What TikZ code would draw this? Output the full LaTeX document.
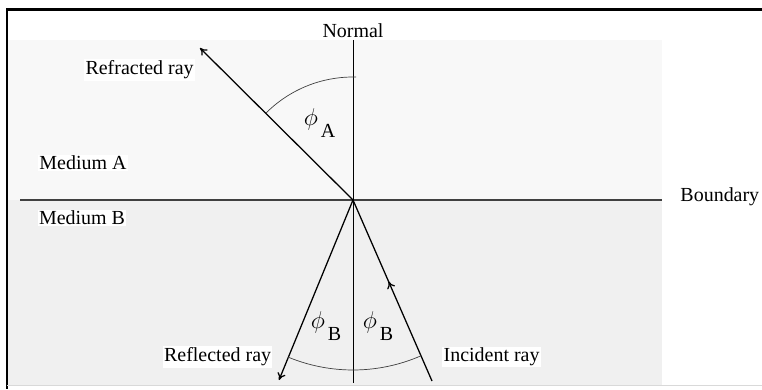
\documentclass[tikz,border=0pt]{standalone}
\usepackage{fontspec}
\setmainfont{Liberation Serif}
\usetikzlibrary{arrows.meta,positioning,decorations.markings}
\definecolor{mediumA}{HTML}{F8F8F8}
\definecolor{mediumB}{HTML}{F0F0F0}
\newcommand{\phisub}[1]{{\fontsize{19}{20}\selectfont$\phi$}\hspace{2pt}\raisebox{-0.6em}{#1}}

\begin{document}
\begin{tikzpicture}[
  lbl/.style={font=\fontsize{14.2}{16}\selectfont, inner sep=1pt},
  tag/.style={lbl, fill=white},
  ray/.style={line width=0.9pt, -{To[length=5pt,width=6pt]}},
  ang/.style={line width=0.5pt, black!75},
  mid arrow/.style={postaction={decorate},
    decoration={markings, mark=at position 0.55 with {\arrow{To[length=5pt,width=6pt]}}}}
]
\useasboundingbox (0,0) rectangle (19.05,9.725);

% the two media
\fill[mediumA] (0.175,8.725) rectangle (16.55,4.725);
\fill[mediumB] (0.175,4.725) rectangle (16.55,0.1);

% frame
\draw[line width=2.4pt] (0.175,9.49) -- (19.05,9.49);
\draw[line width=0.9pt] (0.175,9.52) -- (0.175,0);
\draw[black!15, line width=0.6pt] (0.175,0.08) -- (19.05,0.08);

\coordinate (O) at (8.825,4.725);
\coordinate (ntop) at (8.825,8.725);
\coordinate (nbot) at (8.825,0.15);
\coordinate (bleft) at (0.5,4.725);
\coordinate (bright) at (16.55,4.725);
\coordinate (refr) at (5.0,8.525);
\coordinate (refl) at (6.975,0.225);
\coordinate (inc) at (10.8,0.2);

% boundary and normal
\draw[line width=1.5pt, black!75] (bleft) -- (bright);
\draw[line width=0.5pt] (ntop) -- (nbot);

% rays
\draw[ray] (O) -- (refr);
\draw[ray] (O) -- (refl);
\draw[line width=0.9pt, mid arrow] (inc) -- (O);

% angles
\draw[ang] ([shift={(88.5:3.075)}]O) arc[start angle=88.5, end angle=135, radius=3.075];
\draw[ang] ([shift={(247.6:4.25)}]O) arc[start angle=247.6, end angle=293.6, radius=4.25];

% labels
\node[lbl, above=0.02cm of ntop] (normal) {Normal};
\node[lbl, right=0.42cm of bright, yshift=0.07cm] (boundary) {Boundary};
\node[tag] (refrlbl) at (3.49,7.975) {Refracted ray};
\node[tag] (medA) at (2.075,5.65) {Medium A};
\node[tag] (medB) at (2.05,4.275) {Medium B};
\node[tag] (refllbl) at (5.44,0.8) {Reflected ray};
\node[tag] (inclbl) at (12.29,0.8) {Incident ray};
\node[lbl] (phiA) at (7.99,6.65) {\phisub{A}};
\node[lbl] (phiBl) at (8.15,1.575) {\phisub{B}};
\node[lbl] (phiBr) at (9.45,1.575) {\phisub{B}};

\end{tikzpicture}
\end{document}
